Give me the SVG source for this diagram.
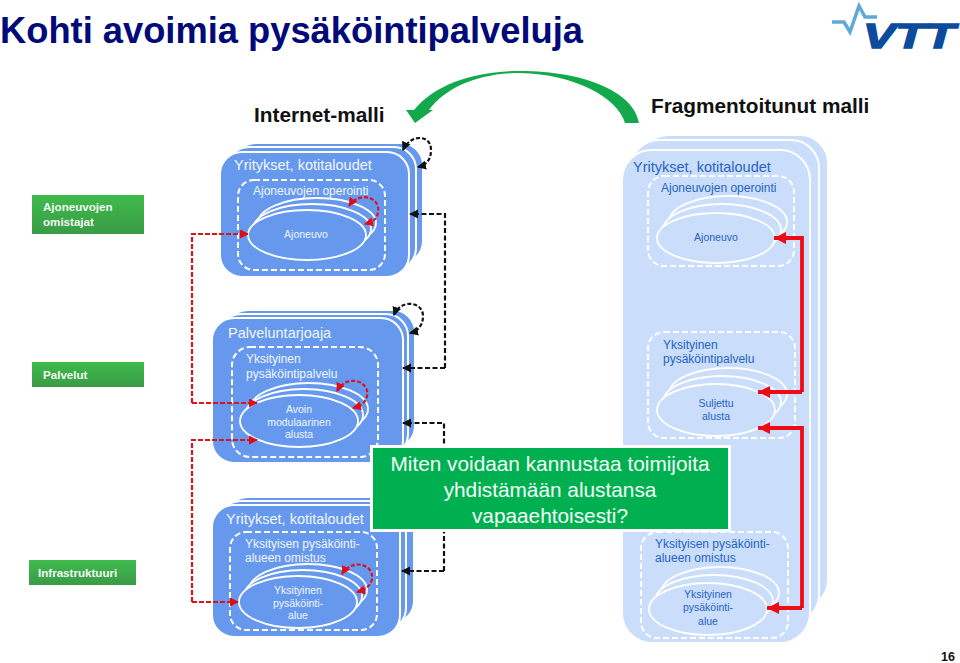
<svg xmlns="http://www.w3.org/2000/svg" width="960" height="663" viewBox="0 0 960 663">
<style>
text{font-family:"Liberation Sans",Arial,sans-serif}
.d{fill:#6699EE;stroke:#fff;stroke-width:2}
.l{fill:#CADDFB;stroke:#fff;stroke-width:2}
.dash{fill:none;stroke:#fff;stroke-width:2;stroke-dasharray:6 3}
.ed{fill:#6699EE;stroke:#fff;stroke-width:1.8}
.el{fill:#CADDFB;stroke:#fff;stroke-width:1.8}
.wt{fill:#F2F6FF}
.bt{fill:#2563C4}
.h1{font-size:14.5px}
.h2{font-size:12px}
.h3{font-size:10.5px}
.m{text-anchor:middle}
.lab{fill:#F2FAF2;font-size:11.600px;font-weight:bold}
.hd{font-size:20.800px;font-weight:bold;fill:#111}
.rd{fill:none;stroke:#D9141E;stroke-width:2.200;stroke-dasharray:5 2;marker-end:url(#ar)}
.ra{fill:none;stroke:#D9141E;stroke-width:2.200;stroke-dasharray:4 2;marker-end:url(#ar);marker-start:url(#ars)}
.kd{fill:none;stroke:#111;stroke-width:2.200;stroke-dasharray:5 2.500;marker-end:url(#ak)}
.ka{fill:none;stroke:#111;stroke-width:2.200;stroke-dasharray:4 2;marker-end:url(#ak);marker-start:url(#aks)}
.rt{fill:none;stroke:#EE0C14;stroke-width:3.800;marker-end:url(#at)}
.co{font-size:20.800px;fill:#F4FFF8;text-anchor:middle}
</style>
<defs>
<linearGradient id="g" x1="0" y1="0" x2="0" y2="1"><stop offset="0" stop-color="#3FBB4C"/><stop offset="1" stop-color="#3A9B47"/></linearGradient>
<marker id="ar" markerUnits="userSpaceOnUse" markerWidth="10" markerHeight="10" refX="8" refY="4.500" orient="auto"><path d="M0 0L9 4.500L0 9z" fill="#E00B16"/></marker>
<marker id="ars" markerUnits="userSpaceOnUse" markerWidth="10" markerHeight="10" refX="8" refY="4.500" orient="auto-start-reverse"><path d="M0 0L9 4.500L0 9z" fill="#E00B16"/></marker>
<marker id="ak" markerUnits="userSpaceOnUse" markerWidth="10" markerHeight="10" refX="8" refY="4.500" orient="auto"><path d="M0 0L9 4.500L0 9z" fill="#111"/></marker>
<marker id="aks" markerUnits="userSpaceOnUse" markerWidth="10" markerHeight="10" refX="8" refY="4.500" orient="auto-start-reverse"><path d="M0 0L9 4.500L0 9z" fill="#111"/></marker>
<marker id="at" markerUnits="userSpaceOnUse" markerWidth="14" markerHeight="14" refX="12" refY="6" orient="auto"><path d="M0 0L12 6L0 12z" fill="#EE0C14"/></marker>
</defs>
<rect width="960" height="663" fill="#fff"/>
<text id="title" x="0" y="43" font-size="36.300" font-weight="bold" fill="#000A78">Kohti avoimia pysäköintipalveluja</text>
<g id="logo">
<polyline points="832,22 844,22 850,32 859,6 865,17 877,17" fill="none" stroke="#5FA8DC" stroke-width="3.500"/>
<text x="863" y="47.500" font-size="35" font-weight="bold" font-style="italic" fill="#0B4A9C" stroke="#0B4A9C" stroke-width="1.500" textLength="92" lengthAdjust="spacingAndGlyphs">VTT</text>
</g>
<text id="internet" class="hd" x="254" y="122">Internet-malli</text>
<text id="fragmentoitunut" class="hd" x="651" y="113">Fragmentoitunut malli</text>
<path id="swoosh" d="M639 123H625C618 98 575 74 520 73C478 73 445 88 429 110H433L415 123L406 110H414C435 84 475 71 520 71C585 71 634 92 639 123Z" fill="#12A94C"/>

<g id="lab-omistajat"><rect x="32" y="195" width="112" height="39" fill="url(#g)"/><text class="lab" x="43" y="211">Ajoneuvojen</text><text class="lab" x="43" y="226">omistajat</text></g>
<g id="lab-palvelut"><rect x="32" y="362" width="112" height="25" fill="url(#g)"/><text class="lab" x="43" y="379">Palvelut</text></g>
<g id="lab-infra"><rect x="29" y="560" width="107" height="25" fill="url(#g)"/><text class="lab" x="38" y="577">Infrastruktuuri</text></g>

<g id="node-yritykset-top">
<rect class="d" x="234" y="143" width="189" height="120" rx="22"/>
<rect class="d" x="227" y="147" width="189" height="123" rx="22"/>
<rect class="d" x="220" y="152" width="189" height="125" rx="22"/>
<text class="wt h1" x="234" y="170">Yritykset, kotitaloudet</text>
<rect class="dash" x="238" y="180" width="147" height="90" rx="16"/>
<text class="wt h2" x="253" y="195">Ajoneuvojen operointi</text>
<ellipse class="ed" cx="317" cy="223" rx="59" ry="25"/><ellipse class="ed" cx="312" cy="229" rx="59" ry="25"/><ellipse class="ed" cx="307" cy="235" rx="59" ry="25"/>
<text class="wt h3 m" x="306" y="238">Ajoneuvo</text>
</g>
<g id="node-palveluntarjoaja">
<rect class="d" x="226" y="310" width="189" height="138" rx="22"/>
<rect class="d" x="219" y="314" width="189" height="142" rx="22"/>
<rect class="d" x="212" y="318" width="191" height="145" rx="22"/>
<text class="wt h1" x="228" y="338">Palveluntarjoaja</text>
<rect class="dash" x="232" y="347" width="146" height="110" rx="18"/>
<text class="wt h2" x="246" y="363">Yksityinen</text><text class="wt h2" x="246" y="378">pysäköintipalvelu</text>
<ellipse class="ed" cx="309" cy="409" rx="59" ry="26"/><ellipse class="ed" cx="304" cy="415" rx="59" ry="26"/><ellipse class="ed" cx="299" cy="421" rx="59" ry="26"/>
<text class="wt h3 m" x="299" y="413">Avoin</text><text class="wt h3 m" x="299" y="426">modulaarinen</text><text class="wt h3 m" x="299" y="438">alusta</text>
</g>
<g id="node-yritykset-bottom">
<rect class="d" x="226" y="497" width="188" height="126" rx="22"/>
<rect class="d" x="219" y="501" width="187" height="129" rx="22"/>
<rect class="d" x="212" y="505" width="188" height="132" rx="22"/>
<text class="wt h1" x="226" y="524">Yritykset, kotitaloudet</text>
<rect class="dash" x="230" y="532" width="147" height="98" rx="16"/>
<text class="wt h2" x="245" y="548">Yksityisen pysäköinti-</text><text class="wt h2" x="245" y="562">alueen omistus</text>
<ellipse class="ed" cx="308" cy="590" rx="59" ry="26"/><ellipse class="ed" cx="303" cy="596" rx="59" ry="26"/><ellipse class="ed" cx="298" cy="602" rx="59" ry="26"/>
<text class="wt h3 m" x="298" y="594">Yksityinen</text><text class="wt h3 m" x="298" y="607">pysäköinti-</text><text class="wt h3 m" x="298" y="619">alue</text>
</g>
<g id="node-fragment">
<rect class="l" x="640" y="135" width="188" height="473" rx="28"/>
<rect class="l" x="631" y="140" width="188" height="483" rx="28"/>
<rect class="l" x="622" y="150" width="188" height="493" rx="30"/>
<text class="bt h1" x="633" y="172">Yritykset, kotitaloudet</text>
<rect class="dash" x="648" y="176" width="146" height="90" rx="16"/>
<text class="bt h2" x="661" y="192">Ajoneuvojen operointi</text>
<ellipse class="el" cx="728" cy="222" rx="59" ry="26"/><ellipse class="el" cx="722" cy="230" rx="59" ry="26"/><ellipse class="el" cx="716" cy="238" rx="59" ry="25"/>
<text class="bt h3 m" x="716" y="241">Ajoneuvo</text>
<rect class="dash" x="648" y="332" width="147" height="106" rx="16"/>
<text class="bt h2" x="663" y="349">Yksityinen</text><text class="bt h2" x="663" y="363">pysäköintipalvelu</text>
<ellipse class="el" cx="728" cy="394" rx="59" ry="26"/><ellipse class="el" cx="722" cy="402" rx="59" ry="26"/><ellipse class="el" cx="716" cy="410" rx="59" ry="26"/>
<text class="bt h3 m" x="716" y="407">Suljettu</text><text class="bt h3 m" x="716" y="420">alusta</text>
<rect class="dash" x="641" y="532" width="147" height="106" rx="16"/>
<text class="bt h2" x="655" y="548">Yksityisen pysäköinti-</text><text class="bt h2" x="655" y="562">alueen omistus</text>
<ellipse class="el" cx="720" cy="593" rx="59" ry="26"/><ellipse class="el" cx="714" cy="601" rx="59" ry="26"/><ellipse class="el" cx="708" cy="609" rx="59" ry="26"/>
<text class="bt h3 m" x="708" y="598">Yksityinen</text><text class="bt h3 m" x="708" y="611">pysäköinti-</text><text class="bt h3 m" x="708" y="625">alue</text>
</g>

<g id="connectors">
<path class="rd" d="M192 403V234H248"/>
<path class="rd" d="M192 403H257"/>
<path class="rd" d="M192 602V440H257"/>
<path class="rd" d="M192 602H238"/>
<path class="ra" d="M349 206C360 190 381 198 378 212C377 220 372 222 365 224"/>
<path class="ra" d="M337 391C346 374 370 380 367 396C366 403 360 406 353 408"/>
<path class="ra" d="M342 574C352 558 374 564 372 579C371 586 364 590 357 592"/>
<path class="ka" d="M403 150C410 134 431 134 431 150C431 160 426 165 418 167"/>
<path class="ka" d="M394 315C400 299 423 301 423 316C423 325 418 331 410 333"/>
<path class="kd" d="M445 368V214H410"/>
<path class="kd" d="M445 368H403"/>
<path class="kd" d="M444 571V423H403"/>
<path class="kd" d="M444 571H402"/>
<path class="rt" d="M802 392V238H774"/>
<path class="rt" d="M802 392H758"/>
<path class="rt" d="M802 608V428H758"/>
<path class="rt" d="M802 608H767"/>
</g>
<g id="callout">
<rect x="371.500" y="446.500" width="358" height="84" fill="#00B050" stroke="#fff" stroke-width="3"/>
<text class="co" x="550" y="471">Miten voidaan kannustaa toimijoita</text>
<text class="co" x="550" y="497">yhdistämään alustansa</text>
<text class="co" x="550" y="523">vapaaehtoisesti?</text>
</g>
<text id="page" x="941" y="661" font-size="12.500" font-weight="bold" fill="#111">16</text>
</svg>
